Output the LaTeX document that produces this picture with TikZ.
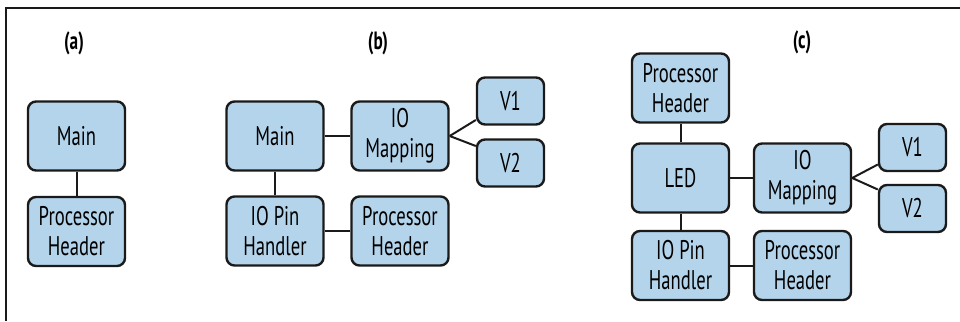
\documentclass[tikz,border=0pt]{standalone}
\usepackage{fontspec}
\setmainfont[FakeStretch=0.69]{PT Sans}
\usetikzlibrary{calc}
\definecolor{boxfill}{HTML}{B4D4EB}
\definecolor{boxline}{HTML}{1A1A1A}
\tikzset{
  blk/.style={draw=boxline, fill=boxfill, line width=2.4pt, rounded corners=8pt,
    inner sep=0pt, align=center, font=\fontsize{27}{30}\selectfont,
    minimum width=#1},
  blk/.default=97pt,
  tall/.style={minimum height=69pt},
  small/.style={minimum width=67pt, minimum height=47pt},
  link/.style={draw=boxline, line width=2pt},
  tag/.style={font=\fontsize{25}{27}\selectfont\bfseries}
}
\begin{document}
\begin{tikzpicture}[x=1pt,y=-1pt]
\useasboundingbox (0,0) rectangle (960,321);
\draw[line width=1.6pt, boxline] (6,321) -- (6,8) -- (960,8);

% labels
\node[tag] (la) at (74,43) {(a)};
\node[tag] (lb) at (378,43) {(b)};
\node[tag] (lc) at (802,42) {(c)};

% (a)
\node[blk, tall] (amain) at (76.5,136) {Main};
\node[blk, tall] (aph) at (76.5,231.5) {Processor\\Header};
\draw[link] (amain) -- (aph);

% (b)
\node[blk, tall] (bmain) at (275,136) {Main};
\node[blk, tall] (bio) at (400,136) {IO\\Mapping};
\node[blk, small] (bv1) at (510.5,101) {V1};
\node[blk, small] (bv2) at (510.5,163) {V2};
\node[blk, tall] (bpin) at (275,231) {IO Pin\\Handler};
\node[blk, tall] (bph) at (400,231) {Processor\\Header};
\draw[link] (bmain) -- (bio);
\draw[link] (bmain) -- (bpin);
\draw[link] (bpin) -- (bph);
\draw[link] (bio.east) -- ([yshift=-19pt]bv1.west);
\draw[link] (bio.east) -- ([yshift=17pt]bv2.west);

% (c)
\node[blk, tall] (cph1) at (680.5,88) {Processor\\Header};
\node[blk, tall] (cled) at (680.5,178) {LED};
\node[blk, tall] (cio) at (802.5,178) {IO\\Mapping};
\node[blk, small] (cv1) at (912.5,147.5) {V1};
\node[blk, small] (cv2) at (912.5,208.5) {V2};
\node[blk, tall] (cpin) at (680.5,265.5) {IO Pin\\Handler};
\node[blk, tall] (cph2) at (802.5,265.5) {Processor\\Header};
\draw[link] (cph1) -- (cled);
\draw[link] (cled) -- (cio);
\draw[link] (cled) -- (cpin);
\draw[link] (cpin) -- (cph2);
\draw[link] (cio.east) -- ([yshift=-17pt]cv1.west);
\draw[link] (cio.east) -- ([yshift=19pt]cv2.west);
\end{tikzpicture}
\end{document}
